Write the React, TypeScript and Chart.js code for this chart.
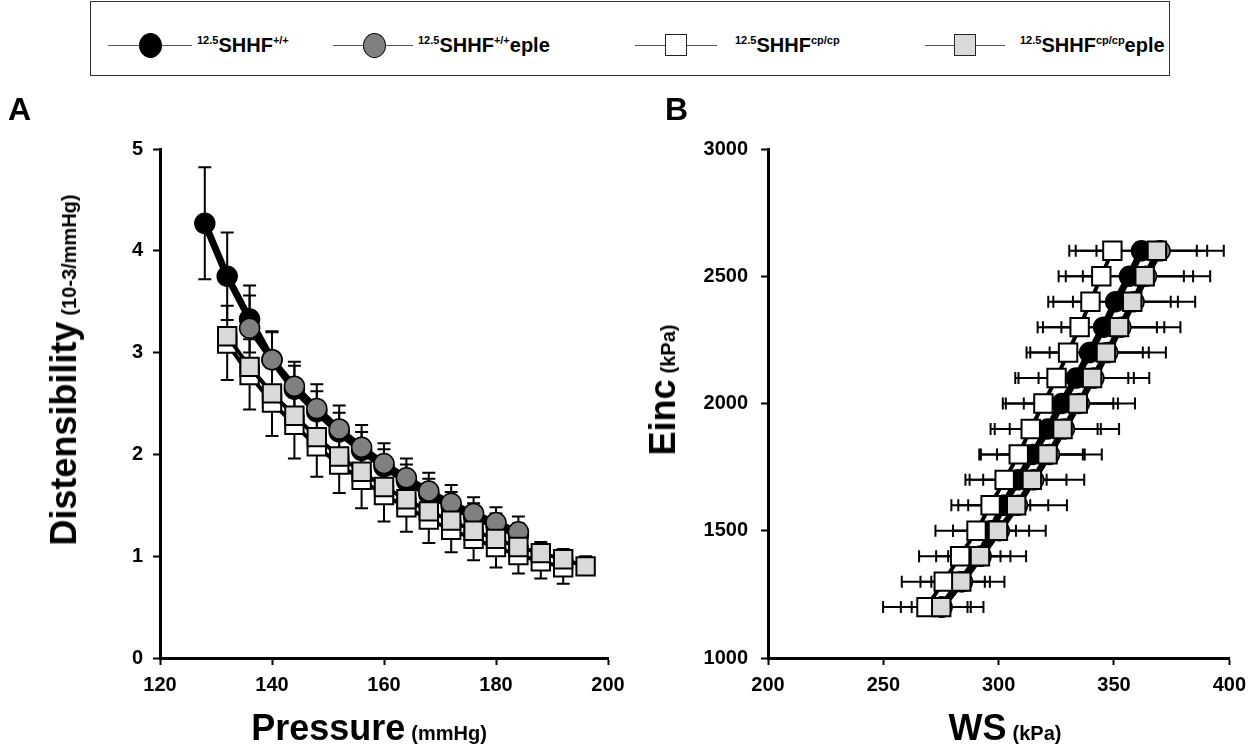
import React, { useEffect, useRef } from "react";
import { Chart, registerables } from "chart.js";
Chart.register(...registerables);

const FONT = '"Liberation Sans", Arial, Helvetica, sans-serif';

// ---------------- Panel A : Distensibility vs Pressure ----------------
const pressureBlack = [128, 132, 136, 140, 144, 148, 152, 156, 160, 164, 168, 172, 176, 180, 184];
const distBlack = [4.27, 3.75, 3.33, 2.93, 2.64, 2.42, 2.22, 2.04, 1.88, 1.74, 1.61, 1.49, 1.39, 1.3, 1.21];
const distBlackErr = [0.55, 0.43, 0.33, 0.27, 0.23, 0.2, 0.19, 0.18, 0.17, 0.16, 0.15, 0.14, 0.13, 0.12, 0.11];

const pressureGray = [136, 140, 144, 148, 152, 156, 160, 164, 168, 172, 176, 180, 184];
const distGray = [3.24, 2.93, 2.67, 2.45, 2.25, 2.07, 1.91, 1.77, 1.64, 1.52, 1.42, 1.33, 1.24];
const distGrayErr = [0.32, 0.28, 0.24, 0.24, 0.23, 0.22, 0.2, 0.19, 0.18, 0.18, 0.16, 0.15, 0.15];

const pressureWhite = [132, 136, 140, 144, 148, 152, 156, 160, 164, 168, 172, 176, 180, 184, 188, 192];
const distWhite = [3.09, 2.78, 2.51, 2.29, 2.08, 1.9, 1.75, 1.6, 1.48, 1.36, 1.26, 1.17, 1.09, 1.01, 0.95, 0.89];
const distWhiteErr = [0.36, 0.34, 0.33, 0.33, 0.3, 0.28, 0.28, 0.26, 0.24, 0.23, 0.22, 0.21, 0.2, 0.18, 0.17, 0.16];

const pressureLight = [132, 136, 140, 144, 148, 152, 156, 160, 164, 168, 172, 176, 180, 184, 188, 192, 196];
const distLight = [3.16, 2.86, 2.6, 2.38, 2.17, 1.98, 1.83, 1.68, 1.56, 1.44, 1.35, 1.25, 1.17, 1.09, 1.03, 0.97, 0.9];
const distLightErr = [0.3, 0.27, 0.25, 0.23, 0.21, 0.2, 0.19, 0.18, 0.17, 0.16, 0.15, 0.14, 0.13, 0.12, 0.11, 0.1, 0.1];

const pressureTicks = [120, 140, 160, 180, 200];
const distTicks = [0, 1, 2, 3, 4, 5];

// ---------------- Panel B : Einc vs WS ----------------
const eincLevels = [1200, 1300, 1400, 1500, 1600, 1700, 1800, 1900, 2000, 2100, 2200, 2300, 2400, 2500, 2600];
const wsBlack = [275.1, 283.5, 291.6, 296.7, 302, 308.4, 314.8, 321.3, 327.4, 333.6, 339.4, 345.5, 350.7, 356.7, 361.9];
const wsBlackErr = [12.8, 12.7, 13.5, 16.5, 19.5, 21, 22.5, 23, 24.3, 25, 25.7, 26.3, 27, 27.6, 28.5];
const wsGray = [275.5, 284.3, 292.4, 300.3, 308.2, 315.2, 322, 328.5, 335, 341.3, 347.3, 353, 358.7, 364.1, 370];
const wsGrayErr = [17.9, 18.2, 19.5, 20.1, 21.4, 21.9, 22.7, 23.7, 24.1, 24, 25.2, 25.8, 26.5, 27.6, 27.6];
const wsWhite = [268.7, 276.2, 283.3, 290.4, 296.5, 302.6, 308.7, 313.9, 319.4, 325.1, 330.1, 335.1, 339.8, 344.5, 349.3];
const wsWhiteErr = [18.8, 18.2, 17.8, 17.8, 17, 17, 17.1, 17.4, 17.6, 17.9, 18, 18.2, 18.3, 18.5, 18.7];
const wsLight = [275.1, 283.8, 291.9, 299.7, 307.6, 314.4, 321.2, 327.7, 334.3, 340.5, 346.5, 352.2, 357.9, 363.3, 368.6];
const wsLightErr = [11.4, 10.2, 8.9, 7.8, 6.1, 6.4, 15.3, 15.2, 15.4, 15.7, 16, 16.4, 16.7, 17, 17.3];

const wsTicks = [200, 250, 300, 350, 400];
const eincTicks = [1000, 1500, 2000, 2500, 3000];

// ---------------- Legend labels ----------------
const legendLabels = [
  { pre: "12.5", main: "SHHF", sup: "+/+", post: "" },
  { pre: "12.5", main: "SHHF", sup: "+/+", post: "eple" },
  { pre: "12.5", main: "SHHF", sup: "cp/cp", post: "" },
  { pre: "12.5", main: "SHHF", sup: "cp/cp", post: "eple" },
];

type Dir = "both" | "plus" | "minus";
type ErrSpec = { values: number[]; dir: Dir };

function pts(xs: number[], ys: number[]) {
  return xs.map((x, i) => ({ x, y: ys[i] }));
}

function makeErrorPlugin(specs: ErrSpec[], axis: "x" | "y", capHalf: number, lw: number) {
  return {
    id: "errorBars",
    beforeDatasetsDraw(chart: any) {
      const { ctx, scales } = chart;
      const sx = scales.x;
      const sy = scales.y;
      ctx.save();
      ctx.strokeStyle = "#000";
      ctx.lineWidth = lw;
      chart.data.datasets.forEach((ds: any, di: number) => {
        const spec = specs[di];
        if (!spec) return;
        ds.data.forEach((p: any, j: number) => {
          const e = spec.values[j];
          const lo = spec.dir === "plus" ? 0 : e;
          const hi = spec.dir === "minus" ? 0 : e;
          ctx.beginPath();
          if (axis === "y") {
            const px = sx.getPixelForValue(p.x);
            const a = sy.getPixelForValue(p.y - lo);
            const b = sy.getPixelForValue(p.y + hi);
            ctx.moveTo(px, a);
            ctx.lineTo(px, b);
            if (lo) {
              ctx.moveTo(px - capHalf, a);
              ctx.lineTo(px + capHalf, a);
            }
            if (hi) {
              ctx.moveTo(px - capHalf, b);
              ctx.lineTo(px + capHalf, b);
            }
          } else {
            const py = sy.getPixelForValue(p.y);
            const a = sx.getPixelForValue(p.x - lo);
            const b = sx.getPixelForValue(p.x + hi);
            ctx.moveTo(a, py);
            ctx.lineTo(b, py);
            if (lo) {
              ctx.moveTo(a, py - capHalf);
              ctx.lineTo(a, py + capHalf);
            }
            if (hi) {
              ctx.moveTo(b, py - capHalf);
              ctx.lineTo(b, py + capHalf);
            }
          }
          ctx.stroke();
        });
      });
      ctx.restore();
    },
  };
}

function axisOpts(min: number, max: number, step: number, ticks: number[], pad: number, fit: (s: any) => void) {
  return {
    type: "linear",
    min,
    max,
    afterBuildTicks: (s: any) => {
      s.ticks = ticks.map((v) => ({ value: v }));
    },
    ticks: {
      stepSize: step,
      color: "#000",
      padding: pad,
      font: { family: FONT, size: 20, weight: "bold" },
      callback: (v: any) => String(v),
    },
    grid: {
      display: true,
      drawOnChartArea: false,
      drawTicks: true,
      tickLength: 7,
      tickWidth: 2,
      tickColor: "#000",
    },
    border: { display: true, color: "#000", width: 3 },
    afterFit: fit,
  };
}

function seriesStyles() {
  return {
    light: {
      order: 0,
      showLine: true,
      borderColor: "#000",
      borderWidth: 4,
      pointStyle: "rect",
      pointRadius: 13,
      pointBackgroundColor: "#d9d9d9",
      pointBorderColor: "#000",
      pointBorderWidth: 2,
    },
    white: {
      order: 1,
      showLine: true,
      borderColor: "#000",
      borderWidth: 4,
      pointStyle: "rect",
      pointRadius: 13,
      pointBackgroundColor: "#ffffff",
      pointBorderColor: "#000",
      pointBorderWidth: 2,
    },
    gray: {
      order: 2,
      showLine: true,
      borderColor: "#000",
      borderWidth: 6,
      pointStyle: "circle",
      pointRadius: 10,
      pointBackgroundColor: "#808080",
      pointBorderColor: "#000",
      pointBorderWidth: 1.5,
    },
    black: {
      order: 3,
      showLine: true,
      borderColor: "#000",
      borderWidth: 7,
      pointStyle: "circle",
      pointRadius: 10,
      pointBackgroundColor: "#000",
      pointBorderColor: "#000",
      pointBorderWidth: 1.5,
    },
  };
}

function buildA(canvas: HTMLCanvasElement) {
  const st = seriesStyles();
  const specs: ErrSpec[] = [
    { values: distLightErr, dir: "plus" },
    { values: distWhiteErr, dir: "minus" },
    { values: distGrayErr, dir: "plus" },
    { values: distBlackErr, dir: "both" },
  ];
  return new Chart(canvas, {
    type: "scatter",
    data: {
      datasets: [
        { label: "cpcp eple", data: pts(pressureLight, distLight), ...st.light },
        { label: "cpcp", data: pts(pressureWhite, distWhite), ...st.white },
        { label: "+/+ eple", data: pts(pressureGray, distGray), ...st.gray },
        { label: "+/+", data: pts(pressureBlack, distBlack), ...st.black },
      ] as any,
    },
    options: {
      responsive: false,
      animation: false,
      events: [],
      layout: { padding: { top: 49, right: 32, left: 0, bottom: 0 } },
      plugins: { legend: { display: false }, tooltip: { enabled: false } },
      scales: {
        x: axisOpts(120, 200, 20, pressureTicks, 8, (s: any) => {
          s.height = 62;
        }),
        y: axisOpts(0, 5, 1, distTicks, 10, (s: any) => {
          s.width = 160;
        }),
      } as any,
    },
    plugins: [makeErrorPlugin(specs, "y", 6.5, 2)],
  } as any);
}

function buildB(canvas: HTMLCanvasElement) {
  const st = seriesStyles();
  const specs: ErrSpec[] = [
    { values: wsLightErr, dir: "plus" },
    { values: wsWhiteErr, dir: "minus" },
    { values: wsGrayErr, dir: "both" },
    { values: wsBlackErr, dir: "both" },
  ];
  return new Chart(canvas, {
    type: "scatter",
    data: {
      datasets: [
        { label: "cpcp eple", data: pts(wsLight, eincLevels), ...st.light },
        { label: "cpcp", data: pts(wsWhite, eincLevels), ...st.white },
        { label: "+/+ eple", data: pts(wsGray, eincLevels), ...st.gray },
        { label: "+/+", data: pts(wsBlack, eincLevels), ...st.black },
      ] as any,
    },
    options: {
      responsive: false,
      animation: false,
      events: [],
      layout: { padding: { top: 49, right: 19, left: 0, bottom: 0 } },
      plugins: { legend: { display: false }, tooltip: { enabled: false } },
      scales: {
        x: axisOpts(200, 400, 50, wsTicks, 8, (s: any) => {
          s.height = 62;
        }),
        y: axisOpts(1000, 3000, 500, eincTicks, 13, (s: any) => {
          s.width = 128;
        }),
      } as any,
    },
    plugins: [makeErrorPlugin(specs, "x", 6, 2)],
  } as any);
}

function ChartCanvas(props: { left: number; top: number; width: number; height: number; build: (c: HTMLCanvasElement) => Chart }) {
  const ref = useRef<HTMLCanvasElement | null>(null);
  useEffect(() => {
    if (!ref.current) return;
    const ch = props.build(ref.current);
    return () => ch.destroy();
  }, []);
  return (
    <canvas
      ref={ref}
      width={props.width}
      height={props.height}
      style={{ position: "absolute", left: props.left, top: props.top, width: props.width, height: props.height }}
    />
  );
}

const legendLayout = [
  { lineL: 108, lineR: 192, cx: 150, textL: 197, shape: "circle", fill: "#000000" },
  { lineL: 333, lineR: 413, cx: 374, textL: 418, shape: "circle", fill: "#808080" },
  { lineL: 635, lineR: 717, cx: 676, textL: 735, shape: "square", fill: "#ffffff" },
  { lineL: 925, lineR: 1005, cx: 965, textL: 1020, shape: "square", fill: "#d9d9d9" },
];

function Legend() {
  const cy = 45;
  const supStyle: React.CSSProperties = { fontSize: 11, position: "relative", top: -8, lineHeight: 0 };
  return (
    <>
      <div
        style={{
          position: "absolute",
          left: 90,
          top: 1,
          width: 1080,
          height: 75,
          border: "1px solid #333",
          boxSizing: "border-box",
        }}
      />
      {legendLayout.map((it, i) => {
        const lab = legendLabels[i];
        const w = it.shape === "circle" ? 23 : 22;
        const h = it.shape === "circle" ? 25 : 22;
        return (
          <React.Fragment key={i}>
            <div
              style={{
                position: "absolute",
                left: it.lineL,
                top: cy - 0.5,
                width: it.lineR - it.lineL,
                height: 1,
                background: "#555",
              }}
            />
            <div
              style={{
                position: "absolute",
                left: it.cx - w / 2,
                top: cy - h / 2,
                width: w,
                height: h,
                boxSizing: "border-box",
                border: it.shape === "circle" ? "1px solid #000" : "1.5px solid #222",
                borderRadius: it.shape === "circle" ? "50%" : 0,
                background: it.fill,
              }}
            />
            <div
              style={{
                position: "absolute",
                left: it.textL,
                top: 35,
                fontSize: 20,
                lineHeight: "20px",
                whiteSpace: "nowrap",
              }}
            >
              <span style={supStyle}>{lab.pre}</span>
              {lab.main}
              <span style={supStyle}>{lab.sup}</span>
              {lab.post}
            </div>
          </React.Fragment>
        );
      })}
    </>
  );
}

function XTitle(props: { cx: number; main: string; unit: string }) {
  return (
    <div
      style={{
        position: "absolute",
        left: props.cx,
        top: 710,
        transform: "translateX(-50%)",
        display: "flex",
        alignItems: "baseline",
        lineHeight: 1,
        whiteSpace: "nowrap",
      }}
    >
      <span style={{ fontSize: 36 }}>{props.main}</span>
      <span style={{ fontSize: 20, marginLeft: 6 }}>{props.unit}</span>
    </div>
  );
}

function YTitle(props: { cx: number; cy: number; main: string; unit: string }) {
  return (
    <div style={{ position: "absolute", left: props.cx, top: props.cy, width: 0, height: 0 }}>
      <div
        style={{
          position: "absolute",
          left: 0,
          top: 0,
          transform: "translate(-50%, -50%) rotate(-90deg)",
          display: "flex",
          alignItems: "baseline",
          lineHeight: 1,
          whiteSpace: "nowrap",
        }}
      >
        <span style={{ fontSize: 36 }}>{props.main}</span>
        <span style={{ fontSize: 20, marginLeft: 6 }}>{props.unit}</span>
      </div>
    </div>
  );
}

export default function App() {
  return (
    <div
      style={{
        position: "fixed",
        left: 0,
        top: 0,
        width: 1254,
        height: 750,
        background: "#fff",
        color: "#000",
        fontFamily: FONT,
        fontWeight: "bold",
        overflow: "hidden",
      }}
    >
      <ChartCanvas left={0} top={100} width={640} height={620} build={buildA} />
      <ChartCanvas left={640} top={100} width={614} height={620} build={buildB} />
      <Legend />
      <div style={{ position: "absolute", left: 8, top: 93, fontSize: 32, lineHeight: 1 }}>A</div>
      <div style={{ position: "absolute", left: 665, top: 93, fontSize: 32, lineHeight: 1 }}>B</div>
      <XTitle cx={369} main="Pressure" unit="(mmHg)" />
      <XTitle cx={1005} main="WS" unit="(kPa)" />
      <YTitle cx={64} cy={370} main="Distensibility" unit="(10-3/mmHg)" />
      <YTitle cx={663} cy={390} main="Einc" unit="(kPa)" />
    </div>
  );
}
